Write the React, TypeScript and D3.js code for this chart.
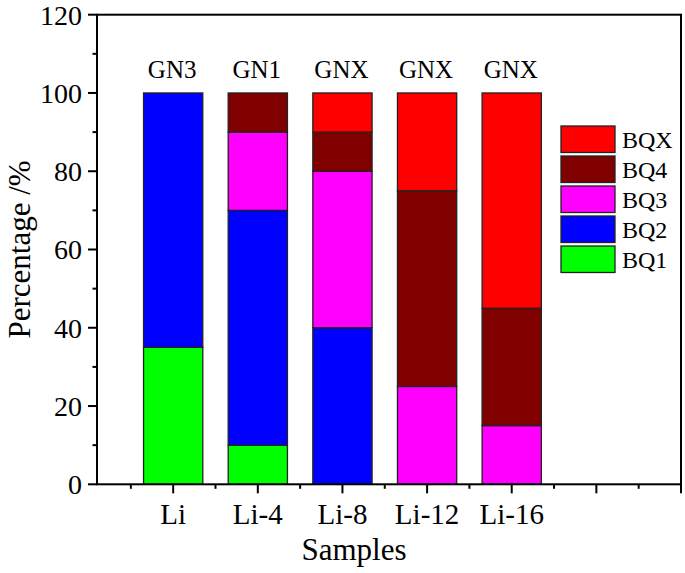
import React from "react";
import * as d3 from "d3";

const samples = ["Li", "Li-4", "Li-8", "Li-12", "Li-16"];
const groupLabels = ["GN3", "GN1", "GNX", "GNX", "GNX"];
const seriesNames = ["BQ1", "BQ2", "BQ3", "BQ4", "BQX"];
const seriesColors = ["#00FF00", "#0000FF", "#FF00FF", "#800000", "#FF0000"];
const BQ1 = [35, 10, 0, 0, 0];
const BQ2 = [65, 60, 40, 0, 0];
const BQ3 = [0, 20, 40, 25, 15];
const BQ4 = [0, 10, 10, 50, 30];
const BQX = [0, 0, 10, 25, 55];
const yTicks = [0, 20, 40, 60, 80, 100, 120];

const W = 685, H = 573;
const L = 97, R = 681, T = 14.7, B = 484.3;
const FONT = '"Liberation Serif", "Times New Roman", Tinos, "DejaVu Serif", "Noto Serif", "Liberation Sans", sans-serif';

export default function App() {
  const x = d3.scaleLinear().domain([0.1, 7]).range([L, R]);
  const y = d3.scaleLinear().domain([0, 120]).range([B, T]);
  const rows = samples.map((s, i) => ({
    sample: s,
    BQ1: BQ1[i], BQ2: BQ2[i], BQ3: BQ3[i], BQ4: BQ4[i], BQX: BQX[i],
  }));
  const stacked = d3.stack<any>().keys(seriesNames)(rows);
  const bw = x(1.7) - x(1);
  const majorX = d3.range(1, 8);
  const minorX = d3.range(0.5, 7, 1);
  const minorY = d3.range(10, 120, 20);
  const ts = { fontFamily: FONT } as React.CSSProperties;

  return (
    <svg width={W} height={H} style={{ position: "absolute", left: 0, top: 0, background: "#fff", fontFamily: FONT }}>
      {stacked.map((layer, si) => (
        <g key={seriesNames[si]}>
          {layer.map((d, i) =>
            d[1] - d[0] > 0 ? (
              <rect key={i} x={x(i + 1) - bw / 2} y={y(d[1])} width={bw} height={y(d[0]) - y(d[1])}
                fill={seriesColors[si]} stroke="#222" strokeWidth={1.3} />
            ) : null
          )}
        </g>
      ))}
      {groupLabels.map((g, i) => (
        <text key={i} style={ts} x={x(i + 1) - 1} y={78} fontSize={25} textAnchor="middle" fill="#000">{g}</text>
      ))}
      <rect x={L} y={T} width={R - L} height={B - T} fill="none" stroke="#000" strokeWidth={2} />
      {yTicks.map((t) => (
        <g key={t}>
          <line x1={L - 9} x2={L} y1={y(t)} y2={y(t)} stroke="#000" strokeWidth={2} />
          <text style={ts} x={82} y={y(t)} dy="0.35em" fontSize={28} textAnchor="end" fill="#000">{t}</text>
        </g>
      ))}
      {minorY.map((t) => (
        <line key={t} x1={L - 4.5} x2={L} y1={y(t)} y2={y(t)} stroke="#000" strokeWidth={2} />
      ))}
      {majorX.map((t) => (
        <line key={t} x1={x(t)} x2={x(t)} y1={B} y2={B + 9} stroke="#000" strokeWidth={2} />
      ))}
      {minorX.map((t) => (
        <line key={t} x1={x(t)} x2={x(t)} y1={B} y2={B + 4.5} stroke="#000" strokeWidth={2} />
      ))}
      {samples.map((s, i) => (
        <text key={s} style={ts} x={x(i + 1)} y={524} fontSize={29} textAnchor="middle" fill="#000">{s}</text>
      ))}
      <text style={ts} x={354} y={560} fontSize={31} textAnchor="middle" fill="#000">Samples</text>
      <text style={ts} transform={`translate(30,${(T + B) / 2}) rotate(-90)`} fontSize={31} textAnchor="middle" fill="#000">Percentage /%</text>
      {seriesNames.slice().reverse().map((n, k) => {
        const si = seriesNames.length - 1 - k;
        const yy = 126 + k * 30;
        return (
          <g key={n}>
            <rect x={561} y={yy} width={54} height={26.5} fill={seriesColors[si]} stroke="#222" strokeWidth={1.3} />
            <text style={ts} x={622} y={yy + 22} fontSize={24} fill="#000">{n}</text>
          </g>
        );
      })}
    </svg>
  );
}
